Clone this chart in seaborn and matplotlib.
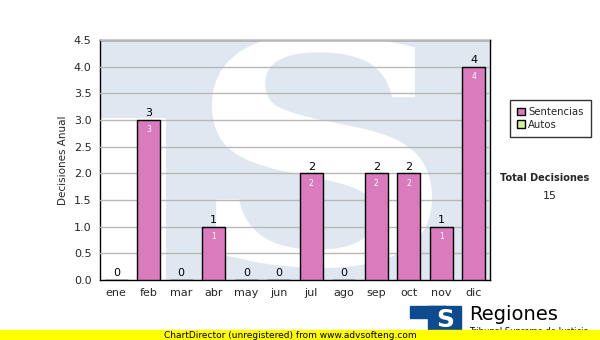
import matplotlib
matplotlib.use("Agg")
import matplotlib.pyplot as plt
import matplotlib.patches as mpatches
from matplotlib.textpath import TextPath
from matplotlib.font_manager import FontProperties
from matplotlib.transforms import Affine2D, IdentityTransform
import seaborn as sns
import pandas as pd
import numpy as np

months = ["ene", "feb", "mar", "abr", "may", "jun", "jul", "ago", "sep", "oct", "nov", "dic"]
sentencias = [0, 3, 0, 1, 0, 0, 2, 0, 2, 2, 1, 4]
autos = [0, 0, 0, 0, 0, 0, 0, 0, 0, 0, 0, 0]
yticks = [0.0, 0.5, 1.0, 1.5, 2.0, 2.5, 3.0, 3.5, 4.0, 4.5]
total = sum(sentencias) + sum(autos)

W, H = 600, 340
sns.set_style("white")
plt.rcParams['font.family'] = ['DejaVu Sans']

fig = plt.figure(figsize=(6, 3.4), dpi=100)
fig.patch.set_facecolor("white")

def fx(px):
    return px / W

def fy(py):
    return 1 - py / H

ax = fig.add_axes([fx(100), fy(280), fx(490) - fx(100), fy(40) - fy(280)])
ax.set_facecolor("white")

# watermark (light-blue logo behind the plot)
wm = "#dfe8f1"
trans = ax.transAxes
def ax_xy(px, py):
    return ((px - 100) / 390.0, (280 - py) / 240.0)
x0, y0 = ax_xy(100, 118)
ax.add_patch(mpatches.Rectangle((x0, y0), 1 - x0, 1 - y0, transform=trans, color=wm, zorder=0, lw=0))
x1, y1 = ax_xy(166, 280)
x2, y2 = ax_xy(490, 118)
ax.add_patch(mpatches.Rectangle((x1, y1), x2 - x1, y2 - y1, transform=trans, color=wm, zorder=0, lw=0))

tp = TextPath((0, 0), "S", size=1, prop=FontProperties(family="DejaVu Serif", weight="bold"))
ext = tp.get_extents()
tx0, tx1, ty0, ty1 = 212, 432, 268, 34   # pixel box (top-left origin)
sxs = (tx1 - tx0) / ext.width
sys_ = (ty0 - ty1) / ext.height
tr = Affine2D().translate(-ext.x0, -ext.y0).scale(sxs, sys_).translate(tx0, H - ty0)
tp2 = tr.transform_path(tp)
spatch = mpatches.PathPatch(tp2, facecolor="white", edgecolor="none", transform=IdentityTransform(), zorder=0.5)
ax.add_artist(spatch)
spatch.set_clip_path(ax.patch)

df = pd.DataFrame({"mes": months, "valor": sentencias})
sns.barplot(data=df, x="mes", y="valor", ax=ax, color="#da7bbd", saturation=1,
            width=0.7, edgecolor="black", linewidth=1, zorder=3)

ax.set_ylim(0, 4.5)
ax.set_xlim(-0.5, 11.5)
ax.set_yticks(yticks)
ax.set_yticklabels([f"{v:.1f}" for v in yticks], fontsize=8)
ax.set_xticks(range(len(months)))
ax.set_xticklabels(months, fontsize=8)
ax.set_xlabel("")
ax.set_ylabel("Decisiones Anual", fontsize=7.5, labelpad=4)
ax.yaxis.grid(True, color="#b8b8b8", linewidth=1, zorder=1)
ax.set_axisbelow(False)
for gl in ax.get_ygridlines():
    gl.set_zorder(1)
ax.tick_params(axis="both", direction="out", length=4, width=1, color="black", pad=2)
for s in ax.spines.values():
    s.set_color("black")
    s.set_linewidth(1)
    s.set_visible(True)

for i, v in enumerate(sentencias):
    ax.text(i, v + 0.03, str(v), ha="center", va="bottom", fontsize=8, color="black", zorder=5)
    if v > 0:
        ax.text(i, v - 0.1, str(v), ha="center", va="top", fontsize=5.5, color="white", zorder=5)

# legend
leg_handles = [mpatches.Patch(facecolor="#da7bbd", edgecolor="black", label="Sentencias"),
               mpatches.Patch(facecolor="#d6eea0", edgecolor="black", label="Autos")]
fig.legend(handles=leg_handles, loc="upper left", bbox_to_anchor=(fx(510), fy(100)),
           fontsize=7.3, frameon=True, fancybox=False, edgecolor="black",
           handlelength=0.8, handleheight=0.8, handletextpad=0.3, borderpad=0.7,
           labelspacing=0.25, borderaxespad=0)

fig.text(fx(545), fy(178), "Total Decisiones", ha="center", va="center", fontsize=7, fontweight="bold")
fig.text(fx(550), fy(196), str(total), ha="center", va="center", fontsize=8)

# logo at bottom right
logo = "#0d4a8e"
fig.patches.append(mpatches.Rectangle((fx(410), fy(318)), fx(446) - fx(410), fy(306) - fy(318),
                                      transform=fig.transFigure, color=logo, figure=fig))
fig.patches.append(mpatches.Rectangle((fx(428), fy(332)), fx(461) - fx(428), fy(306) - fy(332),
                                      transform=fig.transFigure, color=logo, figure=fig))
fig.text(fx(445), fy(320), "S", ha="center", va="center", fontsize=18, fontweight="bold", color="white")
fig.text(fx(469), fy(315), "Regiones", ha="left", va="center", fontsize=14, color="black")
fig.text(fx(469), fy(332), "Tribunal Supremo de Justicia", ha="left", va="center", fontsize=6, color="black")

# yellow band
fig.patches.append(mpatches.Rectangle((0, 0), 1, fy(330), transform=fig.transFigure,
                                      color="#ffff00", figure=fig, zorder=10))
fig.text(fx(290), fy(335), "ChartDirector (unregistered) from www.advsofteng.com", ha="center",
         va="center", fontsize=6.5, color="black", zorder=11)

fig.savefig("out.png", dpi=100)
